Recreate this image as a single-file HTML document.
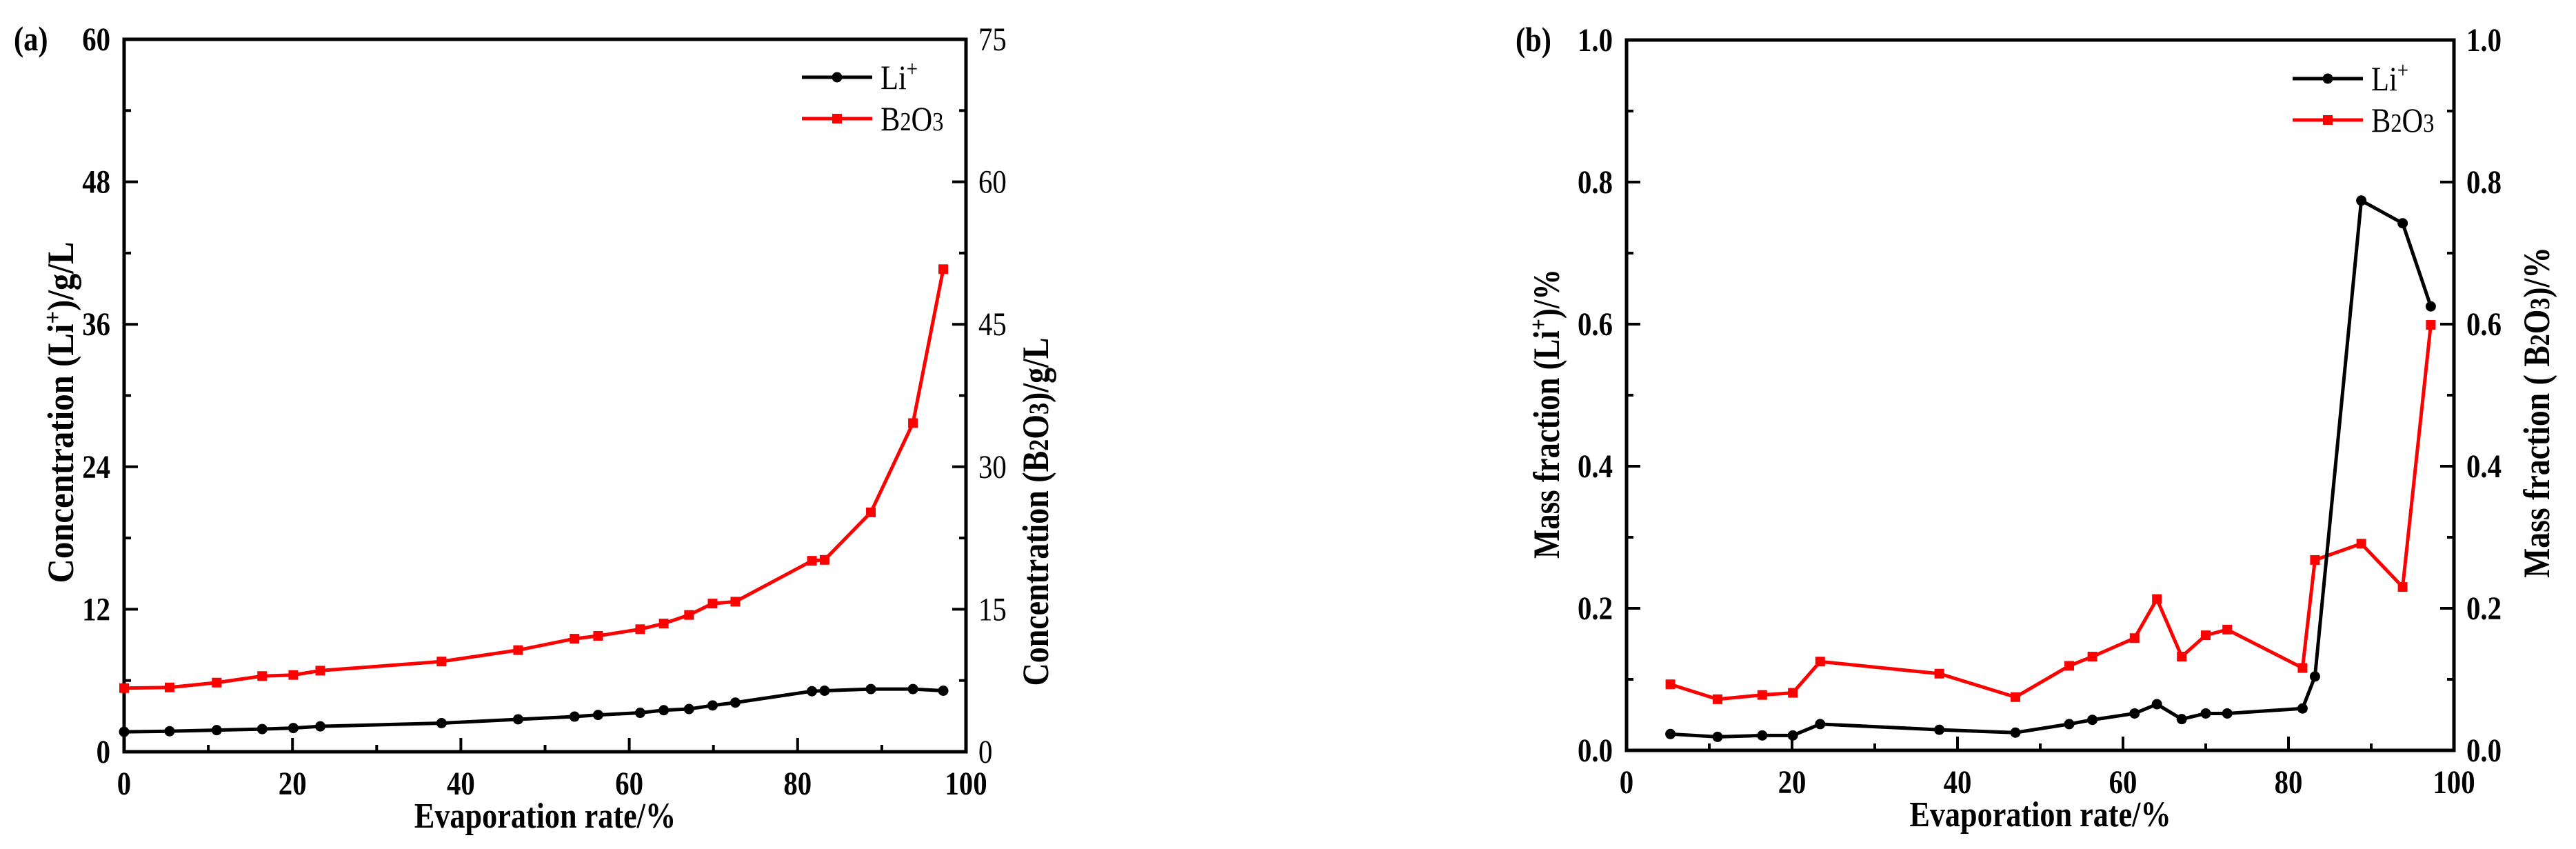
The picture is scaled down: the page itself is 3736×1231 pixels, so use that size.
<!DOCTYPE html>
<html><head><meta charset="utf-8"><style>
html,body{margin:0;padding:0;background:#fff}
svg{display:block}
text{font-family:"Liberation Serif",serif}
</style></head><body>
<svg id="fig" width="3736" height="1231" viewBox="0 0 3736 1231" xmlns="http://www.w3.org/2000/svg"></svg>
<script>
// Panel (a) data
const xA = [0,5.4,11.0,16.4,20.1,23.3,37.7,46.8,53.5,56.3,61.3,64.1,67.1,69.9,72.6,81.7,83.2,88.7,93.7,97.3];
const liA = [1.68,1.73,1.82,1.91,2.0,2.14,2.41,2.73,2.96,3.1,3.28,3.5,3.6,3.9,4.14,5.1,5.14,5.28,5.28,5.14];
const bA = [6.7,6.77,7.28,7.97,8.08,8.54,9.5,10.7,11.9,12.2,12.9,13.5,14.4,15.6,15.8,20.1,20.2,25.2,34.6,50.8];
const xTicks = [0,20,40,60,80,100];
const yTicksA = [0,12,24,36,48,60];
const y2TicksA = [0,15,30,45,60,75];
// Panel (b) data
const xB = [5.3,11.0,16.4,20.1,23.4,37.8,47.0,53.5,56.3,61.4,64.1,67.1,70.0,72.6,81.7,83.2,88.8,93.8,97.2];
const liB = [0.023,0.019,0.021,0.021,0.037,0.029,0.025,0.037,0.043,0.052,0.065,0.044,0.052,0.052,0.059,0.104,0.774,0.742,0.625];
const bB = [0.093,0.072,0.078,0.081,0.125,0.108,0.075,0.119,0.132,0.158,0.213,0.132,0.162,0.170,0.116,0.268,0.291,0.230,0.599];
const yTicksB = [0,0.2,0.4,0.6,0.8,1.0];

const NS="http://www.w3.org/2000/svg";
const SX=0.85;
const svg=document.getElementById('fig');
function el(tag,attrs,parent){const e=document.createElementNS(NS,tag);for(const k in attrs)e.setAttribute(k,attrs[k]);(parent||svg).appendChild(e);return e;}
function txt(parent,x,y,attrs){
  const a=Object.assign({x:0,y:0,transform:`translate(${x} ${y}) scale(${SX} 1)`},attrs);
  return el('text',a,parent);
}
function vtitle(parent,x,cy,len,html){
  const t=el('text',{x:0,y:0,transform:`translate(${x} ${cy}) rotate(-90)`,'text-anchor':'middle','font-size':54,'font-weight':'bold'},parent);
  t.innerHTML=html;
  let w=0;
  try{w=t.getBBox().width;}catch(e){w=0;}
  const s=(w>0)?len/w:SX;
  t.setAttribute('transform',`translate(${x} ${cy}) rotate(-90) scale(${s} 1)`);
  return t;
}

function panel(o){
  const g=el('g',{});
  
  
  const X=v=>o.L+(v-0)/100*(o.R-o.L);
  const Y=v=>o.B-(v-o.ymin)/(o.ymax-o.ymin)*(o.B-o.T);
  const Y2=v=>o.B-(v-o.y2min)/(o.y2max-o.y2min)*(o.B-o.T);
  for(let i=0;i<=10;i++){
    const v=i*10, x=X(v), len=(i%2==0)?20:10;
    const t=el('line',{x1:x,x2:x,y1:o.B,y2:o.B-len,stroke:'#000','stroke-width':4},g);
    
    
  }
  for(let i=0;i<=10;i++){
    const yy=o.B-i/10*(o.B-o.T), len=(i%2==0)?20:10;
    const t1=el('line',{x1:o.L,x2:o.L+len,y1:yy,y2:yy,stroke:'#000','stroke-width':4},g);
    
    
    const t2=el('line',{x1:o.R,x2:o.R-len,y1:yy,y2:yy,stroke:'#000','stroke-width':4},g);
    
    
  }
  const fr=el('rect',{x:o.L,y:o.T,width:o.R-o.L,height:o.B-o.T,fill:'none',stroke:'#000','stroke-width':5},g);
  
  
  xTicks.forEach(v=>{
    const t=txt(g,X(v),o.B+62,{'text-anchor':'middle','font-size':48,'font-weight':'bold'});
    t.textContent=v;
    
    
  });
  o.yTicks.forEach(v=>{
    const t=txt(g,o.L-20,Y(v)+16,{'text-anchor':'end','font-size':48,'font-weight':'bold'});
    t.textContent=o.fmt(v);
    
    
  });
  o.y2Ticks.forEach(v=>{
    const t=txt(g,o.R+18,Y2(v)+16,{'text-anchor':'start','font-size':48,'font-weight':o.y2bold?'bold':'normal'});
    t.textContent=o.fmt(v);
    
    
  });
  const pl=(xs,ys,f)=>xs.map((x,i)=>X(x)+','+f(ys[i])).join(' ');
  const rl=el('polyline',{points:pl(o.xs,o.b,Y2),fill:'none',stroke:'#ff0000','stroke-width':5},g);
  
  
  o.xs.forEach((x,i)=>{
    const r=el('rect',{x:X(x)-7,y:Y2(o.b[i])-7,width:14,height:14,fill:'#ff0000'},g);
    
    
  });
  const bl=el('polyline',{points:pl(o.xs,o.li,Y),fill:'none',stroke:'#000','stroke-width':5},g);
  
  
  o.xs.forEach((x,i)=>{
    const c=el('circle',{cx:X(x),cy:Y(o.li[i]),r:7.5,fill:'#000'},g);
    
    
  });
  const lg=el('g',{},g);
  
  
  el('line',{x1:o.lgx,x2:o.lgx+102,y1:o.lgy,y2:o.lgy,stroke:'#000','stroke-width':5},lg);
  el('circle',{cx:o.lgx+51,cy:o.lgy,r:7.5,fill:'#000'},lg);
  const t1=txt(lg,o.lgx+114,o.lgy+17,{'font-size':50});
  t1.innerHTML='Li<tspan dy="-18" font-size="34">+</tspan>';
  
  
  el('line',{x1:o.lgx,x2:o.lgx+102,y1:o.lgy+60,y2:o.lgy+60,stroke:'#ff0000','stroke-width':5},lg);
  el('rect',{x:o.lgx+44,y:o.lgy+53,width:14,height:14,fill:'#ff0000'},lg);
  const t2=txt(lg,o.lgx+114,o.lgy+77,{'font-size':50});
  t2.innerHTML='B<tspan font-size="38">2</tspan>O<tspan font-size="38">3</tspan>';
  
  
  const pt=txt(g,o.plx,o.T+16,{'font-size':50,'font-weight':'bold'});
  pt.textContent=o.plabel;
  
  
  const xt=txt(g,(o.L+o.R)/2,o.B+110,{'text-anchor':'middle','font-size':52,'font-weight':'bold'});
  xt.textContent='Evaporation rate/%';
  
  
  const yt=vtitle(g,o.yt[0],o.yt[1],o.yt[2],o.ytitle);
  
  
  const y2t=vtitle(g,o.y2t[0],o.y2t[1],o.y2t[2],o.y2title);
  
  
}

panel({name:'panel-a',L:180,R:1401,T:57,B:1090,ymin:0,ymax:60,y2min:0,y2max:75,
  yTicks:yTicksA,y2Ticks:y2TicksA,fmt:v=>String(v),y2bold:false,
  xs:xA,li:liA,b:bA,lgx:1163,lgy:112,plx:20,plabel:'(a)',
  yt:[106,598,495],y2t:[1520,742,505],
  ytitle:'Concentration (Li<tspan dy="-18" font-size="36">+</tspan><tspan dy="18">)/g/L</tspan>',
  y2title:'Concentration (B<tspan font-size="40">2</tspan>O<tspan font-size="40">3</tspan>)/g/L'});
panel({name:'panel-b',L:2359,R:3559,T:58,B:1088,ymin:0,ymax:1,y2min:0,y2max:1,
  yTicks:yTicksB,y2Ticks:yTicksB,fmt:v=>v.toFixed(1),y2bold:true,
  xs:xB,li:liB,b:bB,lgx:3325,lgy:114,plx:2198,plabel:'(b)',
  yt:[2261,600,420],y2t:[3697,598,480],
  ytitle:'Mass fraction (Li<tspan dy="-18" font-size="36">+</tspan><tspan dy="18">)/%</tspan>',
  y2title:'Mass fraction ( B<tspan font-size="40">2</tspan>O<tspan font-size="40">3</tspan>)/%'});
</script>
</body></html>
